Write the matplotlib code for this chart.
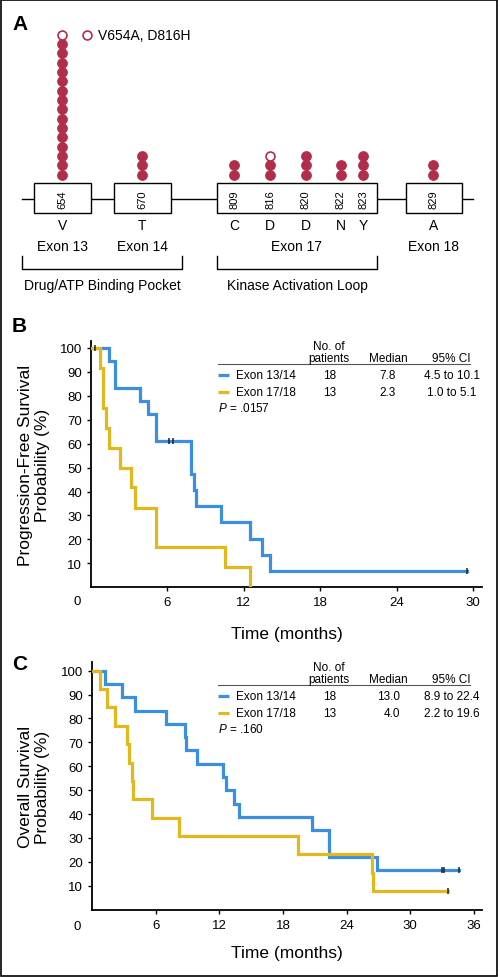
import matplotlib
matplotlib.use("Agg")
import matplotlib.pyplot as plt
from matplotlib.patches import Rectangle

plt.rcParams['font.family'] = ['Liberation Sans', 'DejaVu Sans']
plt.rcParams['mathtext.fontset'] = 'custom'
plt.rcParams['mathtext.it'] = 'Liberation Sans:italic'
plt.rcParams['mathtext.rm'] = 'Liberation Sans'

# ---- Panel A: mutaciones por residuo ----
residues = ['654', '670', '809', '816', '820', '822', '823', '829']
aa_letters = ['V', 'T', 'C', 'D', 'D', 'N', 'Y', 'A']
filled_counts = [15, 3, 2, 2, 3, 2, 3, 2]
open_counts = [1, 0, 0, 1, 0, 0, 0, 0]
exon_names = ['Exon 13', 'Exon 14', 'Exon 17', 'Exon 18']
region_names = ['Drug/ATP Binding Pocket', 'Kinase Activation Loop']
open_label = 'V654A, D816H'

# ---- Panel B: supervivencia libre de progresion ----
pfs_a_t = [0, 1.39, 1.86, 3.87, 4.5, 5.12, 7.82, 8.08, 8.26, 10.2, 12.47, 13.39, 14.04, 29.5]
pfs_a_s = [100, 94.4, 83.3, 77.8, 72.2, 61.1, 47.5, 40.7, 33.9, 27.1, 20.3, 13.6, 6.8, 6.8]
pfs_a_cens = [6.12, 6.43, 29.5]
pfs_b_t = [0, 0.68, 0.94, 1.2, 1.39, 2.3, 3.16, 3.48, 5.12, 10.56, 12.52]
pfs_b_s = [100, 91.7, 75.0, 66.7, 58.3, 50.0, 41.7, 33.3, 16.7, 8.3, 0]
pfs_b_cens = [0.34]

# ---- Panel C: supervivencia global ----
os_a_t = [0, 1.2, 2.86, 4.03, 7.0, 8.8, 8.9, 9.93, 12.33, 12.6, 13.4, 13.9, 20.7, 22.3, 26.86, 34.65]
os_a_s = [100, 94.4, 88.9, 83.3, 77.8, 72.2, 66.7, 61.1, 55.6, 50.0, 44.4, 38.9, 33.3, 22.2, 16.7, 16.7]
os_a_cens = [33.0, 33.15, 34.65]
os_b_t = [0, 0.78, 1.42, 2.14, 3.33, 3.49, 3.75, 3.85, 5.66, 8.2, 19.46, 26.4, 26.5, 33.6]
os_b_s = [100, 92.3, 84.6, 76.9, 69.2, 61.5, 53.8, 46.2, 38.5, 30.8, 23.1, 15.4, 7.7, 7.7]
os_b_cens = [33.6]

groups = ['Exon 13/14', 'Exon 17/18']
n_patients = ['18', '13']
pfs_median = ['7.8', '2.3']
pfs_ci = ['4.5 to 10.1', '1.0 to 5.1']
pfs_p = '.0157'
os_median = ['13.0', '4.0']
os_ci = ['8.9 to 22.4', '2.2 to 19.6']
os_p = '.160'

BLUE = '#3a8fe3'
GOLD = '#e2b81e'
RED = '#b02e4b'

fig = plt.figure(figsize=(5, 9.78), dpi=100)


def surv_at(t_list, s_list, t):
    s = s_list[0]
    for ti, si in zip(t_list, s_list):
        if ti <= t:
            s = si
    return s


def km_axes(left, right, top, bottom, xmax, ymax, xticks):
    ax = fig.add_axes([left / 500, 1 - bottom / 978, (right - left) / 500, (bottom - top) / 978])
    ax.set_xlim(0, xmax)
    ax.set_ylim(0, ymax)
    ax.spines[['top', 'right']].set_visible(False)
    ax.spines[['left', 'bottom']].set_linewidth(1.3)
    ax.set_xticks(xticks)
    ax.set_yticks(range(10, 101, 10))
    ax.tick_params(direction='out', length=3, width=1, labelsize=9.5, pad=3.5)
    return ax


def km_curves(ax, curves):
    for t, s, cens, col, z in curves:
        ax.step(t, s, where='post', color=col, lw=2.3, zorder=z, solid_joinstyle='miter')
        ax.plot(cens, [surv_at(t, s, c) for c in cens], ls='none', marker='|',
                ms=5, mew=1.1, color='#222222', zorder=z + 1)


# Panel B
axb = km_axes(91, 482, 341.7, 588.3, 30.7, 103, [6, 12, 18, 24, 30])
km_curves(axb, [(pfs_a_t, pfs_a_s, pfs_a_cens, BLUE, 3),
                (pfs_b_t, pfs_b_s, pfs_b_cens, GOLD, 4)])
axb.set_ylabel('Progression-Free Survival\nProbability (%)', fontsize=12.5, linespacing=1.15)
axb.yaxis.set_label_coords(-0.105, 0.5)
axb.set_xlabel('Time (months)', fontsize=12.5)
axb.xaxis.set_label_coords(0.5, -0.155)

# Panel C
axc = km_axes(92, 482.3, 663.3, 910.7, 36.8, 103.5, [6, 12, 18, 24, 30, 36])
km_curves(axc, [(os_a_t, os_a_s, os_a_cens, BLUE, 3),
                (os_b_t, os_b_s, os_b_cens, GOLD, 4)])
axc.set_ylabel('Overall Survival\nProbability (%)', fontsize=12.5, linespacing=1.15)
axc.yaxis.set_label_coords(-0.108, 0.5)
axc.set_xlabel('Time (months)', fontsize=12.5)
axc.xaxis.set_label_coords(0.5, -0.143)

# Capa de anotaciones en pixeles
ov = fig.add_axes([0, 0, 1, 1], zorder=10)
ov.set_xlim(0, 500)
ov.set_ylim(978, 0)
ov.axis('off')
ov.patch.set_alpha(0)

ov.add_patch(Rectangle((1, 1), 495.5, 976, fill=False, lw=1.2, ec='black'))

# letras de panel
for lab, (x, y) in zip(['A', 'B', 'C'], [(20, 25), (19, 326), (20, 665)]):
    ov.text(x, y, lab, fontsize=15, fontweight='bold', ha='center', va='center')

# origen "0"
ov.text(77, 602, '0', fontsize=9.5, ha='center', va='center')
ov.text(77, 927, '0', fontsize=9.5, ha='center', va='center')

# ---- Panel A dibujo ----
residue_x = [62.3, 142.3, 234.3, 270, 305.7, 340.7, 363.3, 433.3]
exon_boxes = [(34, 90.7), (114.3, 170.7), (217.3, 376.7), (406, 462)]
exon_x = [62.3, 142.3, 296.7, 433.3]
bracket_spans = [(22.3, 181.7), (217.3, 376.7)]
base_y, step_y = 175.7, 9.34

ov.plot([22, 473], [200, 200], color='black', lw=1, zorder=1)
for x0, x1 in exon_boxes:
    ov.add_patch(Rectangle((x0, 184.3), x1 - x0, 30, fc='white', ec='black', lw=1, zorder=2))
for x, res, aa, nf, no in zip(residue_x, residues, aa_letters, filled_counts, open_counts):
    ov.text(x, 199.5, res, rotation=90, fontsize=8, ha='center', va='center', zorder=3)
    ov.text(x, 225.5, aa, fontsize=10, ha='center', va='center')
    ys = [base_y - i * step_y for i in range(nf)]
    ov.plot([x] * nf, ys, ls='none', marker='o', ms=7.2, mfc=RED, mec=RED, mew=0.5)
    if no:
        yo = [base_y - (nf + i) * step_y for i in range(no)]
        ov.plot([x] * no, yo, ls='none', marker='o', ms=6.4, mfc='white', mec=RED, mew=1.2)
for x, name in zip(exon_x, exon_names):
    ov.text(x, 247, name, fontsize=10, ha='center', va='center')
for (x0, x1), name in zip(bracket_spans, region_names):
    ov.plot([x0, x0, x1, x1], [256.5, 270, 270, 256.5], color='black', lw=1)
    ov.text((x0 + x1) / 2, 286, name, fontsize=10, ha='center', va='center')
ov.plot([87.3], [35.5], marker='o', ms=6.4, mfc='white', mec=RED, mew=1.2)
ov.text(98, 35.5, open_label, fontsize=10, ha='left', va='center')


# ---- Tablas de leyenda ----
def legend_table(y_line, medians, cis, pval, med_x, med_ha):
    ov.plot([218, 470], [y_line, y_line], color='#555555', lw=0.8)
    ov.text(329.3, y_line - 18, 'No. of', fontsize=8.5, ha='center', va='center')
    ov.text(329.3, y_line - 5.5, 'patients', fontsize=8.5, ha='center', va='center')
    ov.text(388.3, y_line - 5.5, 'Median', fontsize=8.5, ha='center', va='center')
    ov.text(451, y_line - 5.5, '95% CI', fontsize=8.5, ha='center', va='center')
    rows_y = [y_line + 11.5, y_line + 28]
    for ry, g, n, m, ci, col in zip(rows_y, groups, n_patients, medians, cis, [BLUE, GOLD]):
        ov.plot([218.3, 229.3], [ry, ry], color=col, lw=2.3, solid_capstyle='butt')
        ov.text(236, ry, g, fontsize=8.5, ha='left', va='center')
        ov.text(329.3, ry, n, fontsize=8.5, ha='center', va='center')
        ov.text(med_x, ry, m, fontsize=8.5, ha=med_ha, va='center')
        ov.text(452, ry, ci, fontsize=8.5, ha='center', va='center')
    ov.text(218.3, y_line + 44, r'$\it{P}$ = ' + pval, fontsize=8.5, ha='left', va='center')


legend_table(364.5, pfs_median, pfs_ci, pfs_p, 388, 'center')
legend_table(685.7, os_median, os_ci, os_p, 400, 'right')

fig.savefig('out.png', dpi=100)
